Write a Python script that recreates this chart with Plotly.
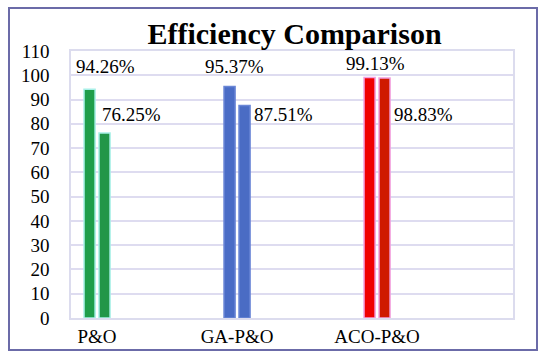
import plotly.graph_objects as go

# ---- data ----
categories = ["P&O", "GA-P&O", "ACO-P&O"]
series1 = [94.26, 95.37, 99.13]
series2 = [76.25, 87.51, 98.83]
y_ticks = list(range(0, 111, 10))

# ---- style ----
FONT = "Liberation Serif"
colors1 = ["#1f9e4a", "#4a6cc6", "#f00000"]
colors2 = ["#229648", "#4a6cc4", "#cf1a00"]
lines1 = ["#a8f0e8", "#6a86d6", "#f2a0e0"]
lines2 = ["#a8f0e8", "#6a86d6", "#f2a0e0"]
BAR_W = 0.079
OFF1 = -0.093
OFF2 = 0.014

x = list(range(len(categories)))

fig = go.Figure()
fig.add_trace(go.Bar(x=x, y=series1, width=BAR_W, offset=OFF1,
                     marker=dict(color=colors1, line=dict(color=lines1, width=1.5)),
                     showlegend=False, hoverinfo="skip"))
fig.add_trace(go.Bar(x=x, y=series2, width=BAR_W, offset=OFF2,
                     marker=dict(color=colors2, line=dict(color=lines2, width=1.5)),
                     showlegend=False, hoverinfo="skip"))

# label placement (pixel shifts relative to category centre, label heights in axis units)
lab1_dx = [8.5, -2.5, -1.5]
lab1_y = [103.8, 103.8, 105.0]
lab2_dx = [34.5, 46.5, 46.0]
lab2_y = [84.0, 84.0, 84.0]
for i in x:
    fig.add_annotation(x=i, y=lab1_y[i], xref="x", yref="y", text=f"{series1[i]:.2f}%",
                       showarrow=False, xshift=lab1_dx[i], font=dict(family=FONT, size=19, color="black"))
    fig.add_annotation(x=i, y=lab2_y[i], xref="x", yref="y", text=f"{series2[i]:.2f}%",
                       showarrow=False, xshift=lab2_dx[i], font=dict(family=FONT, size=19, color="black"))

# outer border
fig.add_shape(type="rect", xref="paper", yref="paper",
              x0=(9 - 71) / 442, x1=(537 - 71) / 442,
              y0=(318 - 350) / 267, y1=(318 - 8) / 267,
              line=dict(color="#6b6ba8", width=2), layer="below")

fig.update_layout(
    width=550, height=360,
    margin=dict(l=71, r=37, t=51, b=42, autoexpand=False),
    paper_bgcolor="white", plot_bgcolor="white",
    title=dict(text="<b>Efficiency Comparison</b>", x=294.5 / 550, xanchor="center",
               y=1 - 33 / 360, yanchor="middle", xref="container", yref="container",
               font=dict(family=FONT, size=30, color="black")),
    font=dict(family=FONT, size=19, color="black"),
    xaxis=dict(tickvals=x, ticktext=categories, range=[-0.186, 2.971],
               showgrid=False, zeroline=False, showline=True, linecolor="#dcdcee",
               linewidth=1.5, mirror=True, ticks="", automargin=False,
               tickfont=dict(family=FONT, size=19, color="black")),
    yaxis=dict(range=[0, 110], tickvals=y_ticks, showgrid=True, gridcolor="#dedcf0",
               gridwidth=1.5, zeroline=False, showline=True, linecolor="#dcdcee",
               linewidth=1.5, mirror=True, ticks="", ticklabelstandoff=16, automargin=False,
               tickfont=dict(family=FONT, size=19, color="black")),
)

fig.write_html("out.html", config={"displayModeBar": False},
               post_script="document.body.style.margin='0';document.body.style.overflow='hidden';")
